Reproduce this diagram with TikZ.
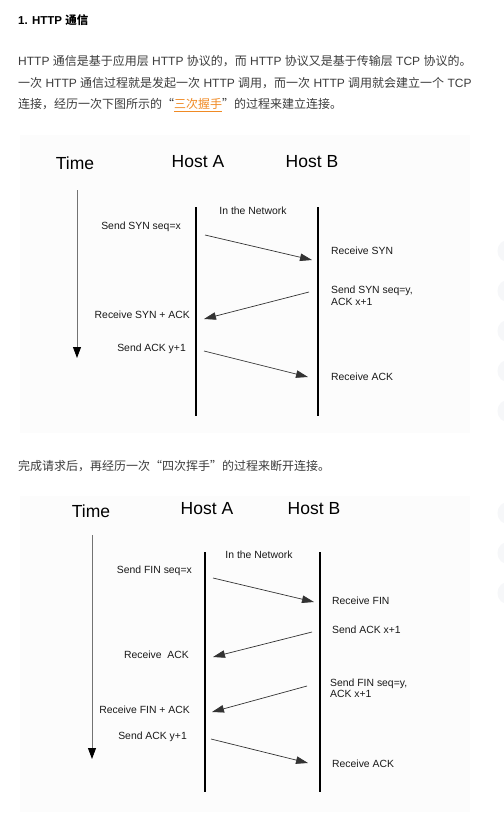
\documentclass[tikz,border=0pt]{standalone}
\usepackage{fontspec}
\setmainfont{Liberation Sans}
\newfontfamily\cjk{Noto Sans CJK SC}
\usetikzlibrary{arrows.meta}
\definecolor{txtgray}{HTML}{3C3C3C}
\definecolor{linkorange}{HTML}{F08A24}
\definecolor{figbg}{HTML}{FCFCFC}
\definecolor{msggray}{HTML}{333333}
\definecolor{uicircle}{HTML}{F6F7F9}
\tikzset{
  para/.style={anchor=west,inner sep=0pt,text=txtgray,font=\fontsize{12}{14}\selectfont},
  head/.style={inner sep=0pt,text=black,font=\fontsize{17.5}{20}\selectfont},
  lbl/.style={inner sep=0pt,text=black!90,font=\fontsize{10.4}{12}\selectfont},
  lblw/.style={lbl,anchor=west,align=left},
  lble/.style={lbl,anchor=east,align=right},
  hostline/.style={line width=2.6pt,black},
  msgarrow/.style={line width=0.7pt,msggray,-{Triangle[length=12pt,width=7.5pt]}},
  timearrow/.style={line width=0.8pt,black!55,-{Triangle[length=11pt,width=8pt,fill=black,color=black]}},
  figback/.style={fill=figbg,draw=none},
  uidot/.style={fill=uicircle,draw=none}
}
\begin{document}
\begin{tikzpicture}[x=1pt,y=-1pt]
\useasboundingbox (0,0) rectangle (503,816);
\fill[white] (0,0) rectangle (503,816);
% faint UI circles at right edge
\foreach \yy in {251,291,331,371,411,513,553,593}
  \fill[uidot] (509,\yy) circle (11.5);
% text
\node[para,text=black,font=\fontsize{11.5}{14}\selectfont\bfseries] (title) at (18,20) {1. HTTP {\cjk 通信}};
\node[para] (p1) at (18,61) {HTTP {\cjk 通信是基于应用层} HTTP {\cjk 协议的，而} HTTP {\cjk 协议又是基于传输层} TCP {\cjk 协议的。}};
\node[para] (p2) at (18,83) {{\cjk 一次} HTTP {\cjk 通信过程就是发起一次} HTTP {\cjk 调用，而一次} HTTP {\cjk 调用就会建立一个} TCP};
\node[para] (p3) at (18,105) {{\cjk 连接，经历一次下图所示的“}\textcolor{linkorange}{\underline{\cjk 三次握手}}{\cjk ”的过程来建立连接。}};
\node[para] (p4) at (18,466) {{\cjk 完成请求后，再经历一次“四次挥手”的过程来断开连接。}};
% ---------- Diagram 1 ----------
\fill[figback] (20,135) rectangle (470,433);
\node[head] (t1) at (75,163) {Time};
\node[head] (ha1) at (198,162) {Host A};
\node[head] (hb1) at (312,162) {Host B};
\coordinate (t1s) at (77,190); \coordinate (t1e) at (77,358);
\draw[timearrow] (t1s) -- (t1e);
\coordinate (a1t) at (196,207); \coordinate (a1b) at (196,416);
\coordinate (b1t) at (318,207); \coordinate (b1b) at (318,416);
\draw[hostline] (a1t) -- (a1b);
\draw[hostline] (b1t) -- (b1b);
\node[lbl] (net1) at (253,211) {In the Network};
\node[lble] (s1) at (181,227) {Send SYN seq=x};
\coordinate (m1s) at (205,235); \coordinate (m1e) at (312,260);
\draw[msgarrow] (m1s) -- (m1e);
\node[lblw] (r1) at (331,251) {Receive SYN};
\node[lblw,font=\fontsize{10.4}{11.5}\selectfont] (s2) at (331,296) {Send SYN seq=y,\\ACK x+1};
\coordinate (m2s) at (309,292); \coordinate (m2e) at (204,319);
\draw[msgarrow] (m2s) -- (m2e);
\node[lble] (r2) at (190,315) {Receive SYN + ACK};
\node[lble] (s3) at (186,349) {Send ACK y+1};
\coordinate (m3s) at (204,351); \coordinate (m3e) at (308,377);
\draw[msgarrow] (m3s) -- (m3e);
\node[lblw] (r3) at (331,377) {Receive ACK};
% ---------- Diagram 2 ----------
\fill[figback] (20,496) rectangle (470,812);
\node[head] (t2) at (91,511) {Time};
\node[head] (ha2) at (207,509) {Host A};
\node[head] (hb2) at (314,509) {Host B};
\coordinate (t2s) at (92,535); \coordinate (t2e) at (92,759);
\draw[timearrow] (t2s) -- (t2e);
\coordinate (a2t) at (205,552); \coordinate (a2b) at (205,792);
\coordinate (b2t) at (320,552); \coordinate (b2b) at (320,792);
\draw[hostline] (a2t) -- (a2b);
\draw[hostline] (b2t) -- (b2b);
\node[lbl] (net2) at (259,555) {In the Network};
\node[lble] (f1) at (192,571) {Send FIN seq=x};
\coordinate (n1s) at (213,578); \coordinate (n1e) at (314,602);
\draw[msgarrow] (n1s) -- (n1e);
\node[lblw] (g1) at (332,601) {Receive FIN};
\node[lblw] (g2) at (332,630) {Send ACK x+1};
\coordinate (n2s) at (312,632); \coordinate (n2e) at (213,657);
\draw[msgarrow] (n2s) -- (n2e);
\node[lble] (f2) at (189,655) {Receive\ \ ACK};
\node[lblw,font=\fontsize{10.4}{11}\selectfont] (g3) at (330,688) {Send FIN seq=y,\\ACK x+1};
\coordinate (n3s) at (307,686); \coordinate (n3e) at (212,712);
\draw[msgarrow] (n3s) -- (n3e);
\node[lble] (f3) at (190,710) {Receive FIN + ACK};
\node[lble] (f4) at (187,737) {Send ACK y+1};
\coordinate (n4s) at (211,739); \coordinate (n4e) at (308,763);
\draw[msgarrow] (n4s) -- (n4e);
\node[lblw] (g4) at (332,764) {Receive ACK};
\end{tikzpicture}
\end{document}
